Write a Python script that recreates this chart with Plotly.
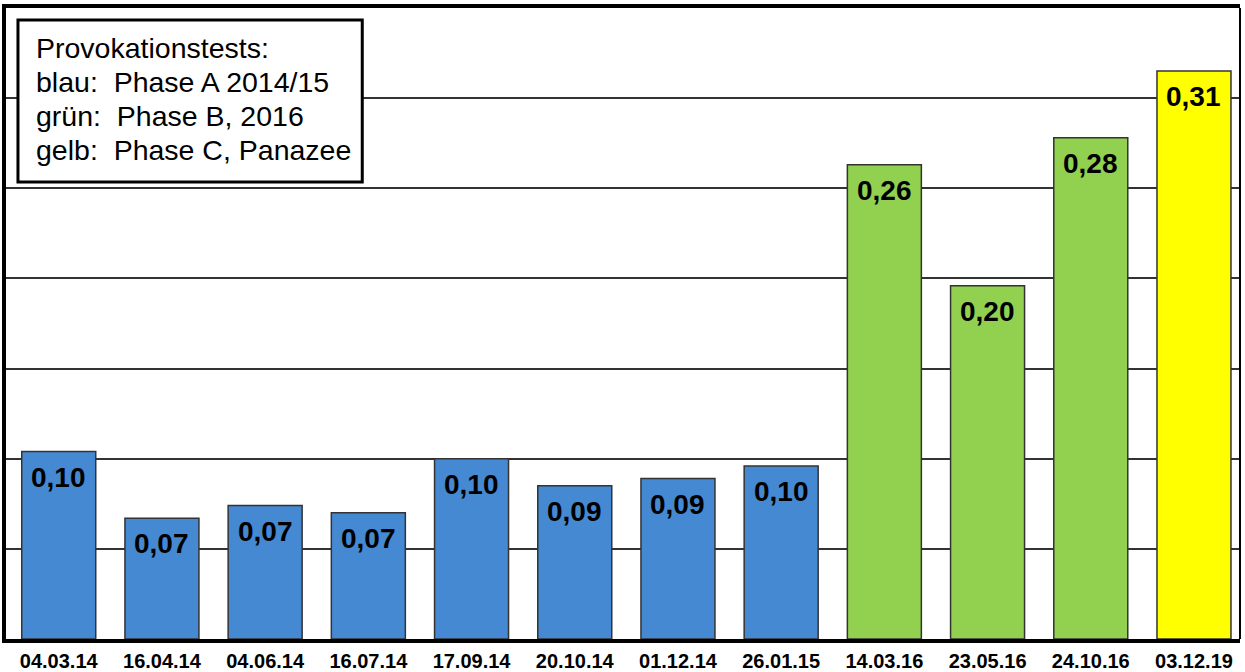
import plotly.graph_objects as go

# ── Data ──
dates = ["04.03.14", "16.04.14", "04.06.14", "16.07.14", "17.09.14", "20.10.14",
         "01.12.14", "26.01.15", "14.03.16", "23.05.16", "24.10.16", "03.12.19"]
values = [0.104, 0.067, 0.074, 0.070, 0.100, 0.085,
          0.089, 0.096, 0.263, 0.196, 0.278, 0.315]
labels = ["0,10", "0,07", "0,07", "0,07", "0,10", "0,09",
          "0,09", "0,10", "0,26", "0,20", "0,28", "0,31"]
phases = ["A"] * 8 + ["B"] * 3 + ["C"]

legend_lines = ["Provokationstests:", "blau:  Phase A 2014/15",
                "grün:  Phase B, 2016", "gelb:  Phase C, Panazee"]

PHASE_COLORS = {"A": "#4589D2", "B": "#92D050", "C": "#FFFF00"}
FONT = "Liberation Sans, Arial, sans-serif"

fig = go.Figure()
fig.add_trace(go.Bar(
    x=dates, y=values,
    marker=dict(color=[PHASE_COLORS[p] for p in phases],
                line=dict(color="#333333", width=1.5)),
    width=0.717,
    hoverinfo="skip",
))

# value labels just below the top of each bar
for d, v, t in zip(dates, values, labels):
    fig.add_annotation(
        x=d, y=v, text=f"<b>{t}</b>", showarrow=False,
        yanchor="top", yshift=-8,
        font=dict(family=FONT, size=28, color="black"),
    )

# legend-like text box in the upper left corner
fig.add_shape(
    type="rect", xref="paper", yref="paper",
    x0=0.0097, x1=0.2887, y0=0.7242, y1=0.981,
    line=dict(color="black", width=3), fillcolor="white", layer="above",
)
for i, line in enumerate(legend_lines):
    fig.add_annotation(
        xref="paper", yref="paper", x=0.0225, y=0.9366 - i * 0.0539,
        xanchor="left", yanchor="middle", align="left",
        text=line, showarrow=False,
        font=dict(family=FONT, size=28.5, color="black"),
    )

# thin right border of the plot frame
fig.add_shape(
    type="line", xref="paper", yref="paper", x0=1, x1=1, y0=0, y1=1,
    line=dict(color="black", width=2), layer="above",
)

fig.update_layout(
    width=1245, height=672,
    plot_bgcolor="white", paper_bgcolor="white",
    margin=dict(l=6, r=5, t=8, b=33),
    showlegend=False,
    font=dict(family=FONT, color="black"),
)
fig.update_xaxes(
    range=[-0.511, 11.446],
    showgrid=False, showline=True, linecolor="black", linewidth=4,
    mirror=True, automargin=False, ticklabelstandoff=1,
    tickfont=dict(family=FONT, size=20, weight="bold", color="black"),
)
fig.update_yaxes(
    range=[0, 0.35], dtick=0.05, showticklabels=False,
    showgrid=True, gridcolor="#333333", gridwidth=1.5,
    showline=True, linecolor="black", linewidth=4,
    zeroline=False,
)

fig.write_html("out.html", config={"displayModeBar": False},
               post_script="document.body.style.margin='0';")
